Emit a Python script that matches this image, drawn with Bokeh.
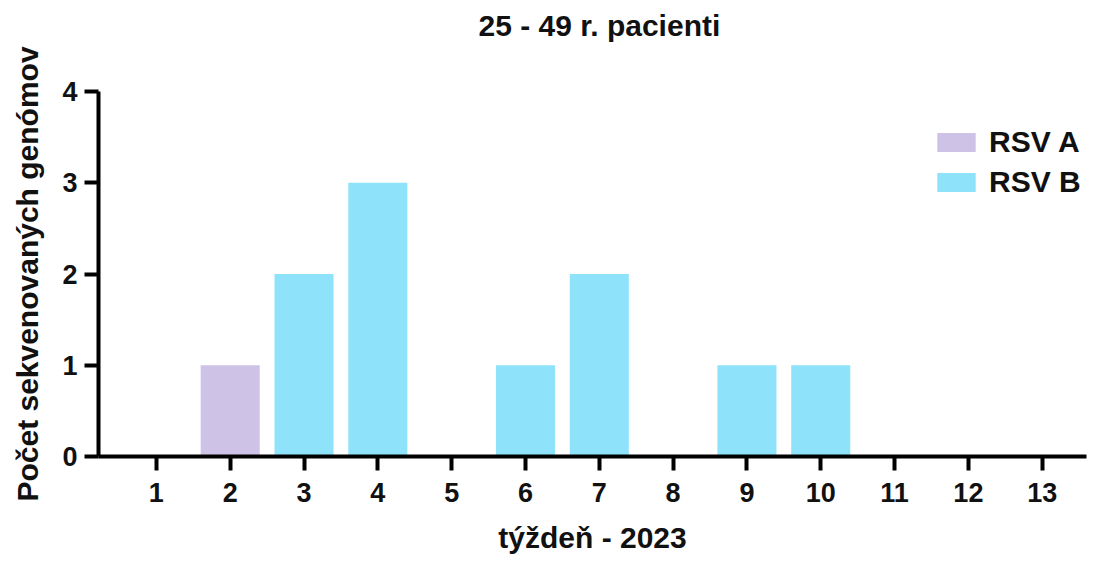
from bokeh.plotting import figure
from bokeh.models import Range1d, FixedTicker, Legend, LegendItem, ColumnDataSource
from bokeh.embed import file_html
from bokeh.resources import INLINE

weeks = [1, 2, 3, 4, 5, 6, 7, 8, 9, 10, 11, 12, 13]
rsv_a = [0, 1, 0, 0, 0, 0, 0, 0, 0, 0, 0, 0, 0]
rsv_b = [0, 0, 2, 3, 0, 1, 2, 0, 1, 1, 0, 0, 0]
series = ["RSV A", "RSV B"]
colors = ["#CEC3E7", "#8EE2FA"]
title_text = "25 - 49 r. pacienti"
x_label = "týždeň - 2023"
y_label = "Počet sekvenovaných genómov"

FONT = "Liberation Sans"

src = ColumnDataSource(dict(x=weeks, a=rsv_a, b=rsv_b))

p = figure(width=1092, height=557, output_backend="svg", toolbar_location=None,
           x_range=Range1d(0.216, 13.6), y_range=Range1d(0, 4),
           min_border_left=98, min_border_right=6, min_border_top=91, min_border_bottom=101)

renderers = p.vbar_stack(["a", "b"], x="x", width=0.8, source=src, color=colors,
                         line_color=None)

# empty spacer between the frame and the title (no items, draws nothing)
spacer = Legend(items=[], margin=25, padding=0, border_line_color=None,
                background_fill_alpha=0)
p.add_layout(spacer, "above")

p.title.text = title_text
p.title.align = "left"
p.title.offset = 380
p.title.vertical_align = "bottom"
p.title.standoff = 0
p.title.text_font = FONT
p.title.text_font_size = "30px"
p.title.text_font_style = "bold"
p.title.text_color = "#111111"

p.outline_line_color = None
p.xgrid.visible = False
p.ygrid.visible = False
p.background_fill_color = "white"
p.border_fill_color = "white"

for ax in (p.xaxis[0], p.yaxis[0]):
    ax.axis_line_width = 4
    ax.axis_line_color = "black"
    ax.major_tick_line_width = 4
    ax.major_tick_line_color = "black"
    ax.major_tick_out = 14
    ax.major_tick_in = 0
    ax.minor_tick_line_color = None
    ax.major_label_text_font = FONT
    ax.major_label_text_font_size = "27px"
    ax.major_label_text_font_style = "bold"
    ax.major_label_text_color = "#111111"
    ax.axis_label_text_font = FONT
    ax.axis_label_text_font_size = "30px"
    ax.axis_label_text_font_style = "bold"
    ax.axis_label_text_color = "#111111"

p.xaxis.ticker = FixedTicker(ticks=weeks)
p.yaxis.ticker = FixedTicker(ticks=[0, 1, 2, 3, 4])
p.xaxis.axis_label = x_label
p.yaxis.axis_label = y_label
p.xaxis.major_label_standoff = 12
p.yaxis.major_label_standoff = 7
p.xaxis.axis_label_standoff = 16
p.yaxis.axis_label_standoff = 15

legend = Legend(items=[LegendItem(label=s, renderers=[r]) for s, r in zip(series, renderers)],
                location=(834, 257), orientation="vertical",
                glyph_width=48, glyph_height=24, label_height=30, label_standoff=9,
                spacing=6, padding=0, margin=0, border_line_color=None,
                background_fill_alpha=0,
                label_text_font=FONT, label_text_font_size="30px",
                label_text_font_style="bold", label_text_color="#111111")
p.add_layout(legend)

open("out.html", "w").write(file_html(p, INLINE))
